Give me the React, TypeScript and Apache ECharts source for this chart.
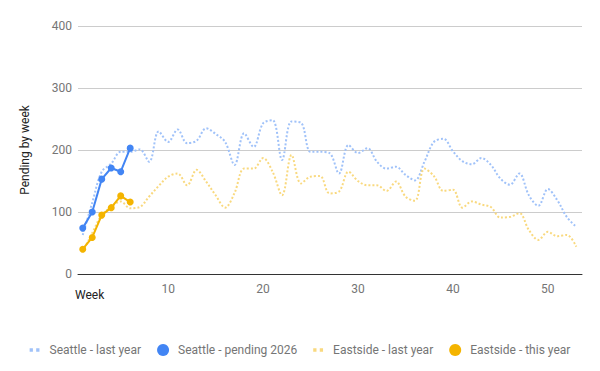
import React, { useEffect, useRef } from "react";
import * as echarts from "echarts";

const seattleLastYear = [63,115,165,178,197,197,201,181,230,213,233,211,215,235,226,213,176,227,205,243,248,184,246,244,197,197,195,162,208,195,203,181,170,173,160,151,181,213,218,198,182,177,187,176,154,144,162,127,110,137,119,92,76];
const seattleThisYear = [74,100,153,171,165,203];
const eastsideLastYear = [36,66,95,108,117,106,108,125,142,157,162,143,168,149,127,107,131,170,170,187,165,127,192,146,157,158,130,133,165,150,143,143,134,149,125,118,170,158,134,136,107,117,112,108,91,92,98,71,55,68,61,63,44];
const eastsideThisYear = [40,59,95,107,126,116];
const xTickLabels = [10, 20, 30, 40, 50];
const seriesNames = ["Seattle - last year", "Seattle - pending 2026", "Eastside - last year", "Eastside - this year"];

const toPairs = (arr: number[]) => arr.map((v, i) => [i + 1, v]);

const DOTS = "path://M0,0h0.01v0.01h-0.01z M0,4h3v3h-3z M6,4h3v3h-3z M8.99,10.99h0.01v0.01h-0.01z";

export default function App() {
  const ref = useRef<HTMLDivElement>(null);
  useEffect(() => {
    if (!ref.current) return;
    const chart = echarts.init(ref.current, null, { renderer: "svg" });
    const font = "Roboto";
    chart.setOption({
      animation: false,
      textStyle: { fontFamily: font },
      grid: { left: 78, right: 18, top: 26, bottom: 97, containLabel: false, outerBoundsMode: "none" },
      legend: {
        top: 339,
        left: "center",
        itemWidth: 12,
        itemHeight: 12,
        itemGap: 16,
        textStyle: { color: "#757575", fontSize: 12, fontFamily: font, padding: [0, 0, 0, 4] },
        data: [
          { name: seriesNames[0], icon: DOTS, itemStyle: { color: "#a0c2f9" } },
          { name: seriesNames[1], icon: "circle", itemStyle: { color: "#4285F4" } },
          { name: seriesNames[2], icon: DOTS, itemStyle: { color: "#f9d97f" } },
          { name: seriesNames[3], icon: "circle", itemStyle: { color: "#F4B400" } },
        ],
      },
      xAxis: {
        type: "value",
        min: 0.5,
        max: 53.6,
        axisLine: { show: true, lineStyle: { color: "#333", width: 1 } },
        axisTick: { show: false },
        splitLine: { show: false },
        axisLabel: { customValues: xTickLabels, color: "#757575", fontSize: 12, margin: 9, fontFamily: font },
      },
      yAxis: {
        type: "value",
        min: 0,
        max: 400,
        interval: 100,
        name: "Pending by week",
        nameLocation: "middle",
        nameGap: 47,
        nameTextStyle: { color: "#222", fontSize: 12, fontFamily: font },
        axisLine: { show: false },
        axisTick: { show: false },
        splitLine: { lineStyle: { color: "#cccccc", width: 1 } },
        axisLabel: { color: "#757575", fontSize: 12, margin: 6, fontFamily: font },
      },
      graphic: [
        { type: "text", left: 75, top: 289, style: { text: "Week", fill: "#222", font: `12px ${font}` } },
      ],
      series: [
        {
          name: seriesNames[0], type: "line", data: toPairs(seattleLastYear), smooth: 0.35,
          showSymbol: false, symbol: "none",
          lineStyle: { color: "#a0c2f9", width: 2, type: [2, 2] }, itemStyle: { color: "#a0c2f9" },
        },
        {
          name: seriesNames[1], type: "line", data: toPairs(seattleThisYear),
          symbol: "circle", symbolSize: 7,
          lineStyle: { color: "#4285F4", width: 2 }, itemStyle: { color: "#4285F4" },
        },
        {
          name: seriesNames[2], type: "line", data: toPairs(eastsideLastYear), smooth: 0.35,
          showSymbol: false, symbol: "none",
          lineStyle: { color: "#f9d97f", width: 2, type: [2, 2] }, itemStyle: { color: "#f9d97f" },
        },
        {
          name: seriesNames[3], type: "line", data: toPairs(eastsideThisYear),
          symbol: "circle", symbolSize: 7,
          lineStyle: { color: "#F4B400", width: 2 }, itemStyle: { color: "#F4B400" },
        },
      ],
    });
    return () => chart.dispose();
  }, []);
  return <div ref={ref} style={{ width: 600, height: 371, position: "absolute", left: 0, top: 0 }} />;
}
